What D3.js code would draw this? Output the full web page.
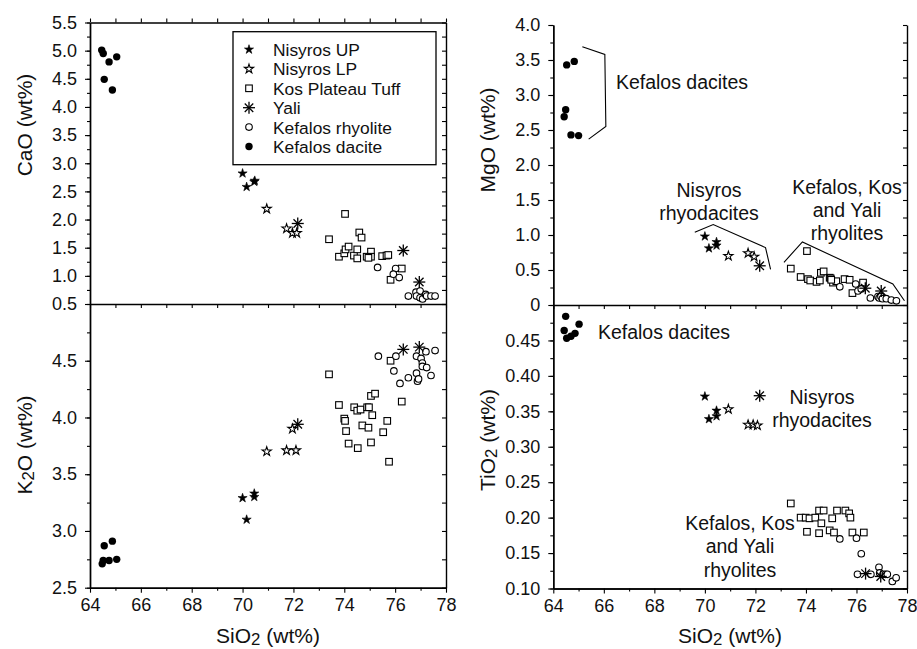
<!DOCTYPE html>
<html>
<head>
<meta charset="utf-8">
<script src="https://cdn.jsdelivr.net/npm/d3@7"></script>
<style>
  html, body { margin: 0; padding: 0; background: #fff; }
  svg { display: block; font-family: "Liberation Sans", Arial, Helvetica, sans-serif; }
</style>
</head>
<body>
<svg id="chart" width="917" height="649"></svg>
<script>
// ---- Legend / series names ----
const seriesNames = ["Nisyros UP", "Nisyros LP", "Kos Plateau Tuff", "Yali", "Kefalos rhyolite", "Kefalos dacite"];
const seriesKeys  = ["up", "lp", "kos", "yali", "rhy", "dac"];

// ---- Tick labels ----
const xTickLabels   = [64, 66, 68, 70, 72, 74, 76, 78];
const caoTickLabels = [0.5, 1.0, 1.5, 2.0, 2.5, 3.0, 3.5, 4.0, 4.5, 5.0, 5.5];
const k2oTickLabels = [2.5, 3.0, 3.5, 4.0, 4.5];
const mgoTickLabels = [0, 0.5, 1.0, 1.5, 2.0, 2.5, 3.0, 3.5, 4.0];
const tio2TickLabels = [0.10, 0.15, 0.20, 0.25, 0.30, 0.35, 0.40, 0.45];

// ---- CaO vs SiO2 (wt%) ----
const caoDac  = [[64.46,5.01],[64.52,4.95],[64.75,4.80],[65.05,4.89],[64.56,4.49],[64.88,4.30]];
const caoUP   = [[70.00,2.82],[70.16,2.58],[70.46,2.67],[70.48,2.69]];
const caoLP   = [[70.95,2.19],[71.73,1.84],[71.96,1.76],[72.13,1.76]];
const caoYali = [[72.17,1.93],[76.32,1.45],[76.95,0.89]];
const caoKos  = [[74.03,2.10],[73.40,1.65],[74.59,1.77],[74.68,1.68],[73.79,1.34],[74.00,1.40],[74.05,1.47],
                 [74.17,1.52],[74.38,1.36],[74.51,1.47],[74.51,1.31],[74.88,1.34],[75.05,1.43],[75.05,1.34],
                 [74.95,1.32],[75.49,1.35],[75.66,1.36],[75.73,1.37],[76.26,1.13],[75.82,0.93]];
const caoRhy  = [[75.31,1.15],[76.02,1.13],[75.93,1.03],[76.16,0.97],[76.52,0.64],[76.82,0.71],[76.98,0.73],
                 [76.84,0.64],[76.98,0.61],[77.08,0.59],[77.20,0.67],[77.24,0.64],[77.41,0.64],[77.57,0.64]];

// ---- K2O vs SiO2 (wt%) ----
const k2oDac  = [[64.56,2.87],[64.88,2.91],[64.48,2.71],[64.52,2.74],[64.75,2.74],[65.05,2.75]];
const k2oUP   = [[70.00,3.29],[70.16,3.10],[70.46,3.33],[70.46,3.30]];
const k2oLP   = [[70.95,3.70],[71.73,3.71],[72.10,3.71],[71.96,3.90]];
const k2oYali = [[72.17,3.94],[76.32,4.60],[76.95,4.62]];
const k2oKos  = [[73.40,4.38],[73.79,4.11],[74.00,3.99],[74.03,3.97],[74.07,3.88],[74.17,3.77],[74.39,4.09],
                 [74.51,4.06],[74.53,3.73],[74.64,4.07],[74.71,3.93],[74.90,4.09],[74.97,4.09],[74.95,3.91],
                 [75.05,4.19],[75.10,4.02],[75.21,4.21],[75.05,3.78],[75.53,3.87],[75.69,3.97],[75.76,3.61],
                 [75.82,4.50],[76.26,4.14]];
const k2oRhy  = [[75.34,4.54],[76.03,4.54],[75.95,4.41],[76.19,4.30],[76.52,4.35],[76.84,4.54],[76.84,4.39],
                 [76.88,4.32],[76.92,4.34],[77.02,4.52],[77.07,4.48],[77.07,4.45],[77.24,4.44],[77.21,4.58],
                 [77.41,4.37],[77.57,4.59]];

// ---- MgO vs SiO2 (wt%) ----
const mgoDac  = [[64.53,3.43],[64.83,3.48],[64.49,2.79],[64.43,2.69],[64.70,2.43],[65.00,2.42]];
const mgoUP   = [[70.00,0.98],[70.16,0.81],[70.46,0.90],[70.46,0.85]];
const mgoLP   = [[70.93,0.70],[71.71,0.74],[71.95,0.69]];
const mgoYali = [[72.17,0.56],[76.35,0.24],[76.98,0.20]];
const mgoKos  = [[73.40,0.52],[74.04,0.77],[73.79,0.40],[74.08,0.37],[74.17,0.35],[74.42,0.33],[74.55,0.35],
                 [74.59,0.46],[74.70,0.48],[74.94,0.39],[74.98,0.38],[75.07,0.32],[75.20,0.34],[75.53,0.37],
                 [75.73,0.36],[75.84,0.17],[76.26,0.32],[75.00,0.36]];
const mgoRhy  = [[75.34,0.26],[75.97,0.30],[76.06,0.20],[76.19,0.23],[76.55,0.10],[76.85,0.12],[76.90,0.10],
                 [76.97,0.12],[77.03,0.09],[77.18,0.09],[77.38,0.07],[77.58,0.06]];

// ---- TiO2 vs SiO2 (wt%) ----
const tio2Dac  = [[64.49,0.484],[64.43,0.464],[64.53,0.453],[64.70,0.456],[64.86,0.460],[65.02,0.473]];
const tio2UP   = [[70.00,0.371],[70.16,0.339],[70.46,0.351],[70.46,0.343]];
const tio2LP   = [[70.93,0.353],[71.71,0.331],[71.91,0.331],[72.08,0.330]];
const tio2Yali = [[72.17,0.372],[76.36,0.121],[76.96,0.117]];
const tio2Kos  = [[73.40,0.220],[73.79,0.200],[73.99,0.200],[74.14,0.199],[74.37,0.200],[74.52,0.210],
                  [74.70,0.210],[74.61,0.192],[74.04,0.180],[74.52,0.178],[74.94,0.182],[75.11,0.179],
                  [75.04,0.199],[75.23,0.210],[75.56,0.210],[75.71,0.206],[75.76,0.200],[75.84,0.179],
                  [76.29,0.179]];
const tio2Rhy  = [[75.34,0.170],[76.00,0.171],[76.19,0.149],[76.04,0.120],[76.57,0.120],[76.89,0.130],
                  [76.92,0.122],[77.05,0.120],[77.15,0.120],[77.22,0.120],[77.42,0.110],[77.57,0.115]];

// ---- Group annotations (bracket vertices in data units) ----
const mgoDaciteBracket = [[65.15,3.69],[66.04,3.58],[66.08,2.55],[65.40,2.37]];
const mgoNisyrosBracket = [[69.60,1.04],[70.33,1.15],[72.40,0.82],[72.60,0.51]];
const mgoRhyoliteBracket = [[73.13,0.61],[73.86,0.90],[77.44,0.30],[77.90,0.06]];

// ---------------------------------------------------------------
const svg = d3.select("#chart");
const FONT_TICK = 18;
const FONT_TITLE = 21;

// panel layout
const panels = [
  { id: "cao",  x: [90, 446],    y: [304, 22.5], dom: [0.5, 5.5], labels: caoTickLabels, minor: 0.25, fmt: d3.format(".1f"),
    top: true,  bottomAxis: false,
    data: { dac: caoDac, up: caoUP, lp: caoLP, yali: caoYali, kos: caoKos, rhy: caoRhy } },
  { id: "k2o",  x: [90, 446],    y: [587.7, 304], dom: [2.5, 5.0], labels: k2oTickLabels, minor: 0.25, fmt: d3.format(".1f"),
    top: false, bottomAxis: true,
    data: { dac: k2oDac, up: k2oUP, lp: k2oLP, yali: k2oYali, kos: k2oKos, rhy: k2oRhy } },
  { id: "mgo",  x: [553.3, 907], y: [305, 25], dom: [0, 4.0], labels: mgoTickLabels, minor: 0.25,
    fmt: d => d === 0 ? "0" : d3.format(".1f")(d),
    top: false, bottomAxis: false,
    data: { dac: mgoDac, up: mgoUP, lp: mgoLP, yali: mgoYali, kos: mgoKos, rhy: mgoRhy } },
  { id: "tio2", x: [553.3, 907], y: [588.5, 305], dom: [0.10, 0.50], labels: tio2TickLabels, minor: 0.025, fmt: d3.format(".2f"),
    top: false, bottomAxis: true,
    data: { dac: tio2Dac, up: tio2UP, lp: tio2LP, yali: tio2Yali, kos: tio2Kos, rhy: tio2Rhy } }
];

function range(a, b, step) {
  const out = [];
  const n = Math.round((b - a) / step);
  for (let i = 0; i <= n; i++) out.push(+(a + i * step).toFixed(4));
  return out;
}

// marker drawing
const starPath = d3.symbol().type(d3.symbolStar).size(26)();
function drawMarker(g, key, px, py) {
  if (key === "dac") {
    g.append("circle").attr("cx", px).attr("cy", py).attr("r", 3.7).attr("fill", "#000");
  } else if (key === "rhy") {
    g.append("circle").attr("cx", px).attr("cy", py).attr("r", 3.3)
      .attr("fill", "#fff").attr("stroke", "#000").attr("stroke-width", 1.1);
  } else if (key === "kos") {
    g.append("rect").attr("x", px - 3.3).attr("y", py - 3.3).attr("width", 6.6).attr("height", 6.6)
      .attr("fill", "#fff").attr("stroke", "#000").attr("stroke-width", 1.1);
  } else if (key === "up") {
    g.append("path").attr("d", starPath).attr("transform", `translate(${px},${py})`)
      .attr("fill", "#000").attr("stroke", "#000").attr("stroke-width", 0.6);
  } else if (key === "lp") {
    g.append("path").attr("d", starPath).attr("transform", `translate(${px},${py})`)
      .attr("fill", "#fff").attr("stroke", "#000").attr("stroke-width", 1.1);
  } else if (key === "yali") {
    const r = 6, d = r * Math.SQRT1_2;
    const a = g.append("g").attr("transform", `translate(${px},${py})`)
      .attr("stroke", "#000").attr("stroke-width", 1.3);
    a.append("line").attr("x1", 0).attr("y1", -r).attr("x2", 0).attr("y2", r);
    a.append("line").attr("x1", -r).attr("y1", 0).attr("x2", r).attr("y2", 0);
    a.append("line").attr("x1", -d).attr("y1", -d).attr("x2", d).attr("y2", d);
    a.append("line").attr("x1", -d).attr("y1", d).attr("x2", d).attr("y2", -d);
  }
}

const drawOrder = ["kos", "rhy", "dac", "lp", "up", "yali"];
const scales = {};

panels.forEach(p => {
  const x = d3.scaleLinear().domain([64, 78]).range(p.x);
  const y = d3.scaleLinear().domain(p.dom).range(p.y);
  scales[p.id] = { x, y };
  const g = svg.append("g").attr("class", "panel-" + p.id);

  // y axis: labelled majors + short minor ticks
  const minors = range(p.dom[0], p.dom[1], p.minor);
  const yMajor = d3.axisLeft(y).tickValues(p.labels).tickFormat(p.fmt).tickSize(5).tickSizeOuter(0).tickPadding(8);
  const yMinor = d3.axisLeft(y).tickValues(minors).tickFormat("").tickSize(3).tickSizeOuter(0);
  g.append("g").attr("transform", `translate(${p.x[0]},0)`).call(yMinor);
  const ya = g.append("g").attr("transform", `translate(${p.x[0]},0)`).call(yMajor);
  ya.selectAll("text").attr("font-size", FONT_TICK).attr("font-family", "Liberation Sans, Arial, sans-serif").attr("fill", "#111");

  // right border with inward ticks
  const yRight = d3.axisLeft(y).tickValues(minors).tickFormat("").tickSize(4).tickSizeOuter(0);
  g.append("g").attr("transform", `translate(${p.x[1]},0)`).call(yRight);

  // lower x edge: ticks pointing down at every integer
  const xTicks = range(64, 78, 1);
  if (p.bottomAxis) {
    const xMinor = d3.axisBottom(x).tickValues(xTicks.filter(v => v % 2)).tickFormat("").tickSize(3).tickSizeOuter(0);
    const xMajor = d3.axisBottom(x).tickValues(xTickLabels).tickFormat(d3.format("d")).tickSize(5).tickSizeOuter(0).tickPadding(6);
    g.append("g").attr("transform", `translate(0,${p.y[0]})`).call(xMinor);
    const xa = g.append("g").attr("transform", `translate(0,${p.y[0]})`).call(xMajor);
    xa.selectAll("text").attr("font-size", FONT_TICK).attr("font-family", "Liberation Sans, Arial, sans-serif").attr("fill", "#111");
  } else {
    const xDiv = d3.axisBottom(x).tickValues(xTicks).tickFormat("").tickSize(4).tickSizeOuter(0);
    g.append("g").attr("transform", `translate(0,${p.y[0]})`).call(xDiv);
  }
  if (p.top) {
    const xTop = d3.axisTop(x).tickValues(xTicks).tickFormat("").tickSize(4).tickSizeOuter(0);
    g.append("g").attr("transform", `translate(0,${p.y[1]})`).call(xTop);
  }
  g.selectAll(".domain").attr("stroke", "#000").attr("stroke-width", 1.4);
  g.selectAll(".tick line").attr("stroke", "#000").attr("stroke-width", 1.1);

  // markers
  const mg = g.append("g").attr("class", "markers");
  drawOrder.forEach(k => {
    p.data[k].forEach(([sx, v]) => drawMarker(mg, k, x(sx), y(v)));
  });
});

// ---- axis titles ----
function titleWithSub(parent, pre, sub, post, attrs) {
  const t = parent.append("text").attr("font-size", FONT_TITLE).attr("fill", "#111").attr("text-anchor", "middle");
  Object.entries(attrs).forEach(([k, v]) => t.attr(k, v));
  t.append("tspan").text(pre);
  if (sub) {
    t.append("tspan").text(sub).attr("font-size", FONT_TITLE * 0.8).attr("dy", 2);
    t.append("tspan").text(post).attr("dy", -2);
  } else {
    t.append("tspan").text(post);
  }
  return t;
}
titleWithSub(svg, "SiO", "2", " (wt%)", { x: 268, y: 643 });
titleWithSub(svg, "SiO", "2", " (wt%)", { x: 730, y: 643 });
titleWithSub(svg, "CaO", "", " (wt%)", { transform: "translate(32,125) rotate(-90)" });
titleWithSub(svg, "K", "2", "O (wt%)", { transform: "translate(32,445) rotate(-90)" });
titleWithSub(svg, "MgO", "", " (wt%)", { transform: "translate(495,140) rotate(-90)" });
titleWithSub(svg, "TiO", "2", " (wt%)", { transform: "translate(495,440) rotate(-90)" });

// ---- legend ----
const leg = svg.append("g").attr("class", "legend");
leg.append("rect").attr("x", 233).attr("y", 31.7).attr("width", 203).attr("height", 133)
  .attr("fill", "#fff").attr("stroke", "#000").attr("stroke-width", 1.3);
seriesNames.forEach((name, i) => {
  const cy = 49.5 + i * 19.4;
  drawMarker(leg, seriesKeys[i], 249, cy);
  leg.append("text").attr("x", 273).attr("y", cy + 6.5).attr("font-size", 17.4).attr("fill", "#111").text(name);
});

// ---- annotations ----
function note(lines, cx, cy0, lh) {
  lines.forEach((s, i) => {
    svg.append("text").attr("x", cx).attr("y", cy0 + i * lh).attr("text-anchor", "middle")
      .attr("font-size", 19.5).attr("fill", "#111").text(s);
  });
}
const line = (sx, sy) => d3.line().x(d => sx(d[0])).y(d => sy(d[1]));
const mgS = scales.mgo;
[mgoDaciteBracket, mgoNisyrosBracket, mgoRhyoliteBracket].forEach(b => {
  svg.append("path").attr("d", line(mgS.x, mgS.y)(b)).attr("fill", "none").attr("stroke", "#000").attr("stroke-width", 1.1);
});
note(["Kefalos dacites"], 682, 88.5, 0);
note(["Nisyros", "rhyodacites"], 709, 197, 23.3);
note(["Kefalos, Kos", "and Yali", "rhyolites"], 847, 193.5, 23.3);
note(["Kefalos dacites"], 664, 338.5, 0);
note(["Nisyros", "rhyodacites"], 822, 403.5, 23.3);
note(["Kefalos, Kos", "and Yali", "rhyolites"], 740, 530, 23.3);
</script>
</body>
</html>
